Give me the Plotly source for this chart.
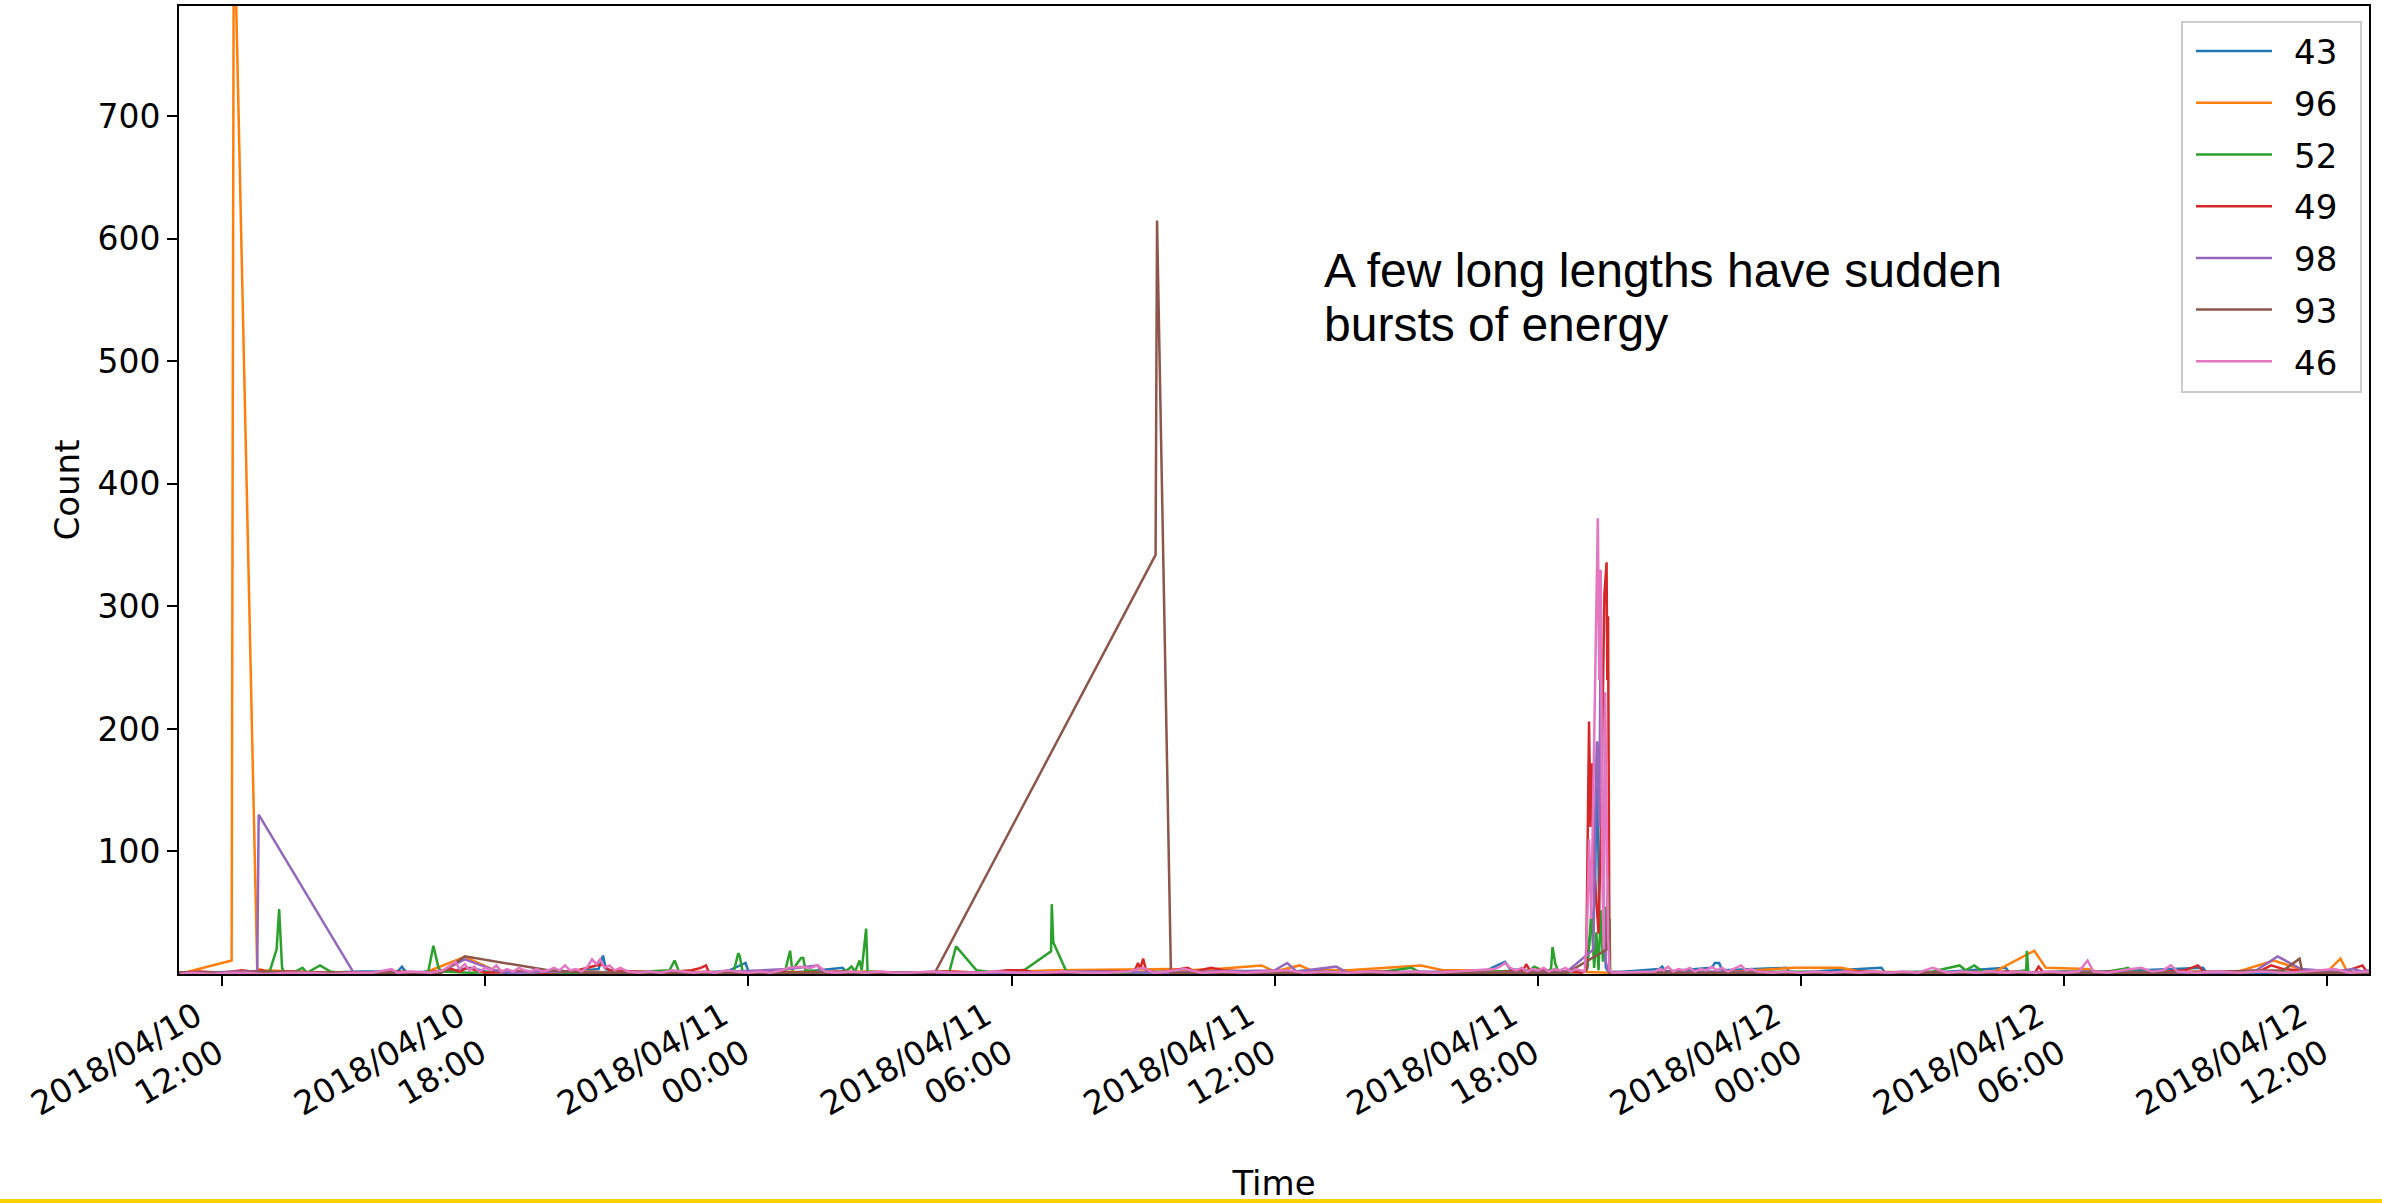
import pandas as pd
import plotly.graph_objects as go

START = pd.Timestamp("2018-04-10 11:00")

series_names = ["43", "96", "52", "49", "98", "93", "46"]
series_colors = ["#1f77b4", "#ff7f0e", "#2ca02c", "#d62728", "#9467bd", "#8c564b", "#e377c2"]

# (minutes after 2018-04-10 11:00, count)
s43 = [(0, 1), (50, 1), (100, 2), (150, 1), (200, 1), (250, 2), (300, 2), (306, 6), (312, 1), (360, 2),
       (380, 3), (400, 5), (420, 2), (450, 1), (500, 3), (540, 2), (575, 4), (581, 15), (585, 4), (600, 2),
       (650, 1), (700, 1), (750, 2), (776, 9), (780, 2), (830, 1), (860, 2), (909, 5), (915, 1), (1000, 1),
       (1100, 1), (1200, 1), (1300, 1), (1400, 2), (1500, 2), (1550, 1), (1600, 2), (1700, 1), (1790, 3),
       (1808, 8), (1815, 10), (1822, 4), (1850, 2), (1900, 2), (1925, 2), (1938, 60), (1941, 188), (1944, 40),
       (1950, 42), (1953, 5), (1958, 1), (2026, 4), (2030, 6), (2035, 2), (2098, 5), (2102, 9), (2108, 9),
       (2112, 3), (2200, 5), (2205, 1), (2330, 5), (2335, 1), (2400, 1), (2500, 5), (2505, 1), (2600, 1),
       (2770, 5), (2775, 1), (2850, 1), (2997, 1)]

s96 = [(1, 0), (73, 11), (76, 880), (108, 4), (117, 3), (150, 2), (200, 1), (250, 1), (300, 1), (337, 1),
       (392, 14), (433, 3), (451, 2), (480, 2), (520, 1), (560, 2), (600, 1), (650, 1), (700, 2), (760, 1),
       (820, 2), (880, 1), (940, 2), (1000, 1), (1060, 2), (1100, 1), (1150, 2), (1200, 3), (1359, 4),
       (1380, 3), (1420, 4), (1482, 7), (1500, 2), (1534, 7), (1550, 3), (1600, 3), (1700, 7), (1730, 3),
       (1780, 3), (1800, 2), (1830, 2), (1860, 2), (1900, 2), (1960, 1), (2100, 1), (2211, 5), (2275, 5),
       (2300, 2), (2400, 1), (2485, 2), (2539, 19), (2555, 5), (2612, 4), (2630, 1), (2700, 1), (2760, 2),
       (2813, 1), (2867, 11), (2913, 2), (2940, 2), (2958, 12.5), (2968, 1), (2997, 1)]

s52 = [(0, 1), (40, 1), (80, 1), (110, 1), (125, 2), (134.5, 20), (138, 53), (142, 5), (145, 1), (160, 2),
       (170, 5), (176, 1), (194, 7), (208, 2), (230, 0), (270, 1), (300, 1), (330, 1), (342, 2), (349, 23),
       (356, 5), (360, 2), (400, 1), (450, 2), (500, 1), (550, 1), (600, 1), (640, 2), (672, 3), (679, 11),
       (685, 2), (720, 1), (760, 2), (766, 17), (768, 15), (772, 2), (800, 1), (830, 2), (837, 19), (840, 3),
       (852, 13), (855, 13), (858, 3), (880, 2), (900, 1), (915, 3), (921, 6), (926, 2), (932, 11), (935, 3),
       (941, 37), (943, 2), (980, 1), (1020, 1), (1055, 2), (1064, 22.5), (1092, 3), (1120, 1), (1158, 3.5),
       (1194, 18.5), (1195, 57), (1197, 26), (1215, 2), (1250, 1), (1300, 1), (1350, 2), (1400, 1), (1450, 2),
       (1500, 1), (1550, 3), (1600, 1), (1650, 2), (1687, 5), (1700, 1), (1750, 1), (1800, 2), (1849, 3),
       (1855, 6), (1870, 2), (1878, 4), (1880, 22), (1884, 8), (1888, 2), (1900, 1), (1925, 2), (1928, 5),
       (1933, 50), (1937, 5), (1940, 34), (1943, 3), (1946, 52), (1949, 10), (1952, 55), (1955, 20),
       (1958, 45), (1959, 0), (2000, 1), (2100, 1), (2200, 2), (2300, 1), (2400, 2), (2437, 7), (2445, 3),
       (2457, 7), (2471, 1), (2500, 1), (2528, 3), (2529, 19), (2531, 1), (2580, 2), (2640, 2), (2660, 4),
       (2667, 5), (2675, 2), (2720, 1), (2800, 1), (2850, 2), (2900, 1), (2950, 1), (2997, 1)]

s49 = [(0, 1), (30, 2), (60, 1), (87, 3), (100, 2), (115, 3), (123, 1), (150, 2), (200, 1), (250, 1),
       (300, 2), (340, 1), (374, 4), (385, 2), (395, 5), (406, 3), (420, 1), (460, 2), (500, 1), (540, 2),
       (579, 8), (590, 3), (620, 2), (660, 1), (702, 3), (715, 5), (722, 7), (726, 1), (760, 1), (800, 2),
       (850, 1), (900, 2), (950, 1), (1000, 1), (1050, 2), (1100, 1), (1135, 3), (1158, 3), (1170, 1),
       (1200, 1), (1260, 2), (1308, 2), (1313, 9), (1316, 4), (1320, 12.5), (1324, 3), (1340, 1), (1381, 5),
       (1390, 2), (1413, 5), (1430, 3), (1460, 2), (1500, 1), (1560, 2), (1600, 1), (1640, 2), (1700, 1),
       (1750, 2), (1800, 1), (1840, 3), (1844, 8), (1850, 2), (1865, 4), (1880, 1), (1900, 2), (1920, 1),
       (1926, 3), (1930, 206), (1932, 120), (1934, 172), (1937, 87), (1940, 60), (1943, 33), (1946, 110),
       (1949, 250), (1951, 310), (1954, 336), (1955, 240), (1956, 292), (1958, 2), (1962, 1), (2000, 1),
       (2050, 2), (2100, 1), (2150, 2), (2200, 1), (2250, 1), (2300, 2), (2350, 1), (2400, 1), (2450, 1),
       (2500, 2), (2540, 1), (2545, 6), (2552, 1), (2600, 1), (2650, 2), (2700, 1), (2745, 3), (2763, 7),
       (2772, 1), (2810, 1), (2850, 3), (2863, 7), (2880, 4), (2900, 3), (2920, 1), (2960, 1), (2988, 7),
       (2995, 1)]

s98 = [(0, 1), (40, 1), (80, 2), (108, 2), (110, 130), (240, 1), (280, 1), (320, 1), (356, 1), (392, 12),
       (433, 3), (460, 1), (520, 2), (580, 1), (640, 1), (700, 1), (760, 2), (834, 4), (875, 7), (880, 1),
       (950, 1), (1050, 1), (1150, 1), (1250, 2), (1350, 1), (1420, 2), (1500, 3), (1517, 9), (1530, 2),
       (1584, 6), (1600, 1), (1700, 2), (1800, 1), (1900, 2), (1936, 20), (1939, 150), (1941, 190),
       (1944, 120), (1946, 298), (1948, 160), (1950, 60), (1953, 10), (1956, 2), (2000, 1), (2100, 2),
       (2200, 1), (2300, 1), (2400, 1), (2500, 1), (2600, 2), (2700, 1), (2800, 1), (2843, 3), (2872, 14.4),
       (2904, 4), (2950, 2), (2975, 4), (2988, 2), (2997, 3)]

s93 = [(0, 1), (60, 1), (120, 2), (200, 1), (300, 1), (360, 1), (392, 14.4), (506, 3), (560, 1), (640, 1),
       (720, 1), (800, 1), (900, 1), (980, 1), (1035, 1), (1337, 342), (1339, 615), (1358, 1), (1400, 1),
       (1500, 1), (1600, 1), (1700, 1), (1800, 1), (1900, 1), (1954, 20), (1956, 80), (1958, 1), (2100, 1),
       (2300, 1), (2500, 1), (2700, 1), (2880, 3), (2902, 12.5), (2906, 1), (2997, 1)]

s46 = [(2, 0), (20, 1), (45, 0), (70, 1), (95, 1), (120, 0), (150, 1), (180, 1), (210, 0), (240, 1),
       (265, 1), (285, 3), (292, 4), (300, 1), (320, 2), (345, 1), (362, 3), (370, 6), (379, 10), (385, 4),
       (392, 8), (398, 3), (405, 6), (412, 2), (420, 5), (428, 3), (435, 7), (442, 2), (450, 4), (458, 2),
       (466, 5), (474, 3), (482, 2), (490, 4), (498, 2), (506, 3), (514, 5), (522, 3), (529, 7), (536, 3),
       (544, 4), (552, 2), (560, 6), (566, 12), (572, 8), (577, 12), (583, 5), (590, 7), (597, 3), (605, 5),
       (615, 2), (630, 1), (645, 2), (660, 1), (675, 3), (690, 2), (705, 1), (720, 2), (735, 1), (750, 3),
       (765, 2), (780, 1), (795, 2), (810, 1), (825, 3), (834, 5), (850, 6), (865, 5), (875, 7), (885, 2),
       (900, 1), (920, 2), (940, 1), (960, 2), (980, 1), (1000, 1), (1030, 2), (1060, 1), (1090, 1),
       (1120, 2), (1150, 1), (1180, 1), (1210, 2), (1240, 1), (1270, 1), (1300, 2), (1320, 5), (1335, 1),
       (1350, 2), (1377, 4), (1400, 1), (1430, 2), (1460, 1), (1490, 2), (1518, 3), (1540, 1), (1570, 2),
       (1600, 1), (1630, 2), (1660, 1), (1690, 2), (1720, 1), (1750, 2), (1780, 3), (1801, 4), (1808, 6),
       (1815, 9), (1822, 5), (1830, 3), (1838, 5), (1845, 2), (1852, 4), (1860, 3), (1868, 5), (1875, 2),
       (1882, 4), (1890, 3), (1898, 5), (1905, 2), (1912, 4), (1918, 3), (1924, 2), (1927, 30), (1930, 110),
       (1933, 45), (1936, 150), (1939, 260), (1942, 372), (1944, 240), (1946, 330), (1948, 90), (1950, 20),
       (1952, 230), (1954, 120), (1956, 30), (1958, 3), (1962, 1), (2020, 2), (2026, 4), (2032, 3), (2038, 6),
       (2045, 2), (2052, 4), (2060, 3), (2068, 5), (2075, 2), (2082, 4), (2090, 3), (2098, 6), (2105, 3),
       (2112, 5), (2120, 2), (2128, 4), (2138, 7), (2145, 3), (2152, 4), (2160, 2), (2180, 1), (2200, 2),
       (2220, 1), (2240, 2), (2260, 1), (2280, 2), (2300, 1), (2320, 2), (2340, 1), (2360, 2), (2380, 1),
       (2400, 5), (2420, 1), (2440, 2), (2460, 1), (2480, 2), (2500, 1), (2520, 2), (2540, 1), (2560, 2),
       (2580, 1), (2600, 2), (2612, 11), (2620, 2), (2640, 1), (2660, 3), (2685, 5), (2700, 2), (2715, 3),
       (2726, 7), (2735, 2), (2760, 1), (2790, 2), (2820, 1), (2850, 2), (2880, 1), (2910, 2), (2950, 4),
       (2970, 1), (2997, 2)]

series_data = [s43, s96, s52, s49, s98, s93, s46]

tick_times = ["2018-04-10 12:00", "2018-04-10 18:00", "2018-04-11 00:00", "2018-04-11 06:00",
              "2018-04-11 12:00", "2018-04-11 18:00", "2018-04-12 00:00", "2018-04-12 06:00",
              "2018-04-12 12:00"]
tick_labels = ["2018/04/10<br>12:00", "2018/04/10<br>18:00", "2018/04/11<br>00:00", "2018/04/11<br>06:00",
               "2018/04/11<br>12:00", "2018/04/11<br>18:00", "2018/04/12<br>00:00", "2018/04/12<br>06:00",
               "2018/04/12<br>12:00"]
y_ticks = [100, 200, 300, 400, 500, 600, 700]

x_start_min, x_end_min = 1, 2997
y_range = [0, 790]
note_lines = ["A few long lengths have sudden", "bursts of energy"]
note_time = "2018-04-11 13:05"
note_values = [574, 530]

FONT = "DejaVu Sans"
PAD = "\u2002"  # spacing around legend labels
fig = go.Figure()
for name, color, data in zip(series_names, series_colors, series_data):
    t = [START + pd.Timedelta(minutes=m) for m, _ in data]
    v = [c for _, c in data]
    fig.add_trace(go.Scatter(x=t, y=v, mode="lines", name=PAD + name + PAD, legendgroup=name,
                             line=dict(color=color, width=2.5)))

axis_common = dict(showgrid=False, zeroline=False, showline=True, linecolor="black", linewidth=2,
                   mirror=True, ticks="outside", ticklen=10, tickwidth=2, tickcolor="black",
                   automargin=False)

fig.update_layout(
    width=2382, height=1203,
    margin=dict(l=179, r=13, t=6, b=229, autoexpand=False),
    paper_bgcolor="white", plot_bgcolor="white",
    xaxis=dict(type="date",
               range=[START + pd.Timedelta(minutes=x_start_min), START + pd.Timedelta(minutes=x_end_min)],
               tickmode="array", tickvals=[pd.Timestamp(s) for s in tick_times], ticktext=tick_labels,
               tickangle=-30, ticklabelshift=-26, ticklabelstandoff=-2,
               tickfont=dict(family=FONT, size=33, color="black"),
               title=dict(text="Time", font=dict(family=FONT, size=34, color="black"), standoff=20),
               **axis_common),
    yaxis=dict(range=y_range, tickmode="array", tickvals=y_ticks,
               tickfont=dict(family=FONT, size=33, color="black"),
               title=dict(text="Count", font=dict(family=FONT, size=34, color="black"), standoff=8),
               **axis_common),
    legend=dict(x=(2181 - 179) / 2190, y=0.985, xanchor="left", yanchor="top",
                bgcolor="rgba(255,255,255,0.8)", bordercolor="#cccccc", borderwidth=2,
                font=dict(family=FONT, size=34, color="black"), tracegroupgap=4.5, itemwidth=76,
                indentation=8),
    showlegend=True,
)

for text, val in zip(note_lines, note_values):
    fig.add_annotation(x=pd.Timestamp(note_time), y=val, xref="x", yref="y", text=text, showarrow=False,
                       xanchor="left", yanchor="middle",
                       font=dict(family="Liberation Sans", size=48, color="black"))

fig.add_shape(type="rect", xref="paper", yref="paper", x0=-179 / 2190, x1=2203 / 2190,
              y0=(974 - 1203) / 968, y1=(974 - 1199) / 968, fillcolor="#ffd200", line=dict(width=0),
              layer="above")

fig.write_html("out.html")
